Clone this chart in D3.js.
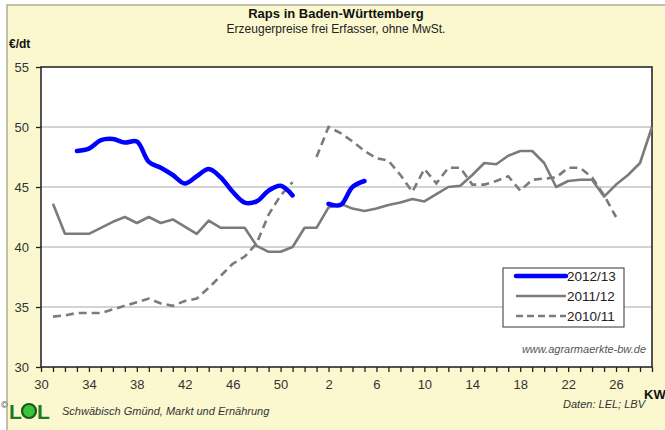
<!DOCTYPE html>
<html>
<head>
<meta charset="utf-8">
<script src="https://cdn.jsdelivr.net/npm/d3@7"></script>
<style>
  html, body { margin: 0; padding: 0; background: #ffffff; }
  svg { display: block; font-family: "Liberation Sans", Arial, sans-serif; }
</style>
</head>
<body>
<svg id="chart" width="665" height="430"></svg>
<script>
// ---- data ----
const weeks = [30,31,32,33,34,35,36,37,38,39,40,41,42,43,44,45,46,47,48,49,50,51,52,
               1,2,3,4,5,6,7,8,9,10,11,12,13,14,15,16,17,18,19,20,21,22,23,24,25,26,27,28,29];
const tickLabelWeeks = [30,34,38,42,46,50,2,6,10,14,18,22,26];
const yTicks = [30,35,40,45,50,55];
const seriesNames = ["2012/13","2011/12","2010/11"];

const s2012 = [null,null,null,48.0,48.2,48.9,49.0,48.7,48.8,47.1,46.6,46.0,45.3,45.9,46.5,45.8,44.6,43.7,43.8,44.7,45.1,44.3,
               null,null,43.6,43.5,45.0,45.5,
               null,null,null,null,null,null,null,null,null,null,null,null,null,null,null,null,null,null,null,null,null,null,null,null];
const s2011 = [null,43.6,41.1,41.1,41.1,41.6,42.1,42.5,42.0,42.5,42.0,42.3,41.7,41.1,42.2,41.6,41.6,41.6,40.1,39.6,39.6,40.0,41.6,
               41.6,43.3,43.6,43.2,43.0,43.2,43.5,43.7,44.0,43.8,44.4,45.0,45.1,46.0,47.0,46.9,47.6,48.0,48.0,47.0,45.0,45.5,45.6,45.6,44.2,45.2,46.0,47.0,50.0];
const s2010 = [null,34.2,34.3,34.5,34.5,34.5,34.8,35.1,35.4,35.7,35.3,35.1,35.5,35.7,36.6,37.6,38.6,39.2,40.3,42.7,44.3,45.4,null,
               47.5,50.0,49.5,48.8,48.0,47.4,47.2,46.0,44.6,46.5,45.3,46.6,46.6,45.2,45.2,45.5,45.9,44.7,45.6,45.7,45.8,46.6,46.6,45.8,44.3,42.5,null,null,null];

// ---- layout ----
const svg = d3.select("#chart");
const L = 41, R = 652, T = 67, B = 367;
const x = d3.scaleLinear().domain([0, weeks.length - 1]).range([L, R]);
const y = d3.scaleLinear().domain([30, 55]).range([B, T]);

// background
svg.append("rect").attr("x", 0).attr("y", 0).attr("width", 665).attr("height", 430).attr("fill", "#ffffff");
svg.append("rect").attr("x", 7).attr("y", 5).attr("width", 670).attr("height", 440)
   .attr("fill", "#fbf8cf").attr("stroke", "#9a9a80").attr("stroke-width", 1.2);

// plot area
svg.append("rect").attr("x", L).attr("y", T).attr("width", R - L).attr("height", B - T).attr("fill", "#ffffff");

// gridlines
svg.append("g").selectAll("line").data(yTicks.filter(v => v > 30 && v < 55)).join("line")
  .attr("x1", L).attr("x2", R).attr("y1", d => y(d)).attr("y2", d => y(d))
  .attr("stroke", "#c4c4c4").attr("stroke-width", 1.3);

// axes
const yAxis = svg.append("g").attr("transform", `translate(${L},0)`)
  .call(d3.axisLeft(y).tickValues(yTicks).tickSize(5).tickPadding(7).tickSizeOuter(0));
yAxis.select(".domain").remove();
yAxis.selectAll("text").attr("font-size", 13).attr("fill", "#333").attr("font-family", "Liberation Sans, Arial, sans-serif");
yAxis.selectAll("line").attr("stroke", "#222").attr("stroke-width", 1.3);

const xAxis = svg.append("g").attr("transform", `translate(0,${B})`)
  .call(d3.axisBottom(x).tickValues(d3.range(weeks.length)).tickSize(5).tickPadding(8).tickSizeOuter(0)
    .tickFormat(i => tickLabelWeeks.includes(weeks[i]) ? weeks[i] : ""));
xAxis.select(".domain").remove();
xAxis.selectAll("text").attr("font-size", 13).attr("fill", "#333").attr("font-family", "Liberation Sans, Arial, sans-serif");
xAxis.selectAll("line").attr("stroke", "#222").attr("stroke-width", 1.3);

// plot border
svg.append("rect").attr("x", L).attr("y", T).attr("width", R - L).attr("height", B - T)
  .attr("fill", "none").attr("stroke", "#2a2a2a").attr("stroke-width", 1.6);

// lines
const lineLinear = d3.line().defined(d => d != null).x((d, i) => x(i)).y(d => y(d));
const lineSmooth = d3.line().defined(d => d != null).x((d, i) => x(i)).y(d => y(d)).curve(d3.curveCatmullRom.alpha(0.5));

svg.append("path").datum(s2010).attr("d", lineLinear).attr("fill", "none")
  .attr("stroke", "#7b7b7b").attr("stroke-width", 2.6).attr("stroke-dasharray", "8,5");
svg.append("path").datum(s2011).attr("d", lineLinear).attr("fill", "none")
  .attr("stroke", "#7b7b7b").attr("stroke-width", 2.6).attr("stroke-linejoin", "round");
svg.append("path").datum(s2012).attr("d", lineSmooth).attr("fill", "none")
  .attr("stroke", "#0000ff").attr("stroke-width", 4.5).attr("stroke-linecap", "round").attr("stroke-linejoin", "round");

// legend
const lg = svg.append("g");
lg.append("rect").attr("x", 503).attr("y", 268).attr("width", 121).attr("height", 59)
  .attr("fill", "#ffffff").attr("stroke", "#333").attr("stroke-width", 1);
const legStyles = [
  {color: "#0000ff", w: 4.5, dash: null},
  {color: "#7b7b7b", w: 2.6, dash: null},
  {color: "#7b7b7b", w: 2.6, dash: "7,4"}
];
seriesNames.forEach((name, i) => {
  const yy = 276 + i * 20;
  const st = legStyles[i];
  lg.append("line").attr("x1", 516).attr("x2", 566).attr("y1", yy).attr("y2", yy)
    .attr("stroke", st.color).attr("stroke-width", st.w).attr("stroke-dasharray", st.dash)
    .attr("stroke-linecap", i === 0 ? "round" : "butt");
  lg.append("text").attr("x", 567).attr("y", yy + 5).attr("font-size", 13.5).attr("fill", "#222").text(name);
});

// texts
svg.append("text").attr("x", 336).attr("y", 18).attr("text-anchor", "middle")
  .attr("font-size", 13).attr("font-weight", "bold").attr("fill", "#111").text("Raps in Baden-Württemberg");
svg.append("text").attr("x", 336).attr("y", 33).attr("text-anchor", "middle")
  .attr("font-size", 12).attr("fill", "#222").text("Erzeugerpreise frei Erfasser, ohne MwSt.");
svg.append("text").attr("x", 9).attr("y", 48)
  .attr("font-size", 12).attr("font-weight", "bold").attr("fill", "#111").text("€/dt");
svg.append("text").attr("x", 644).attr("y", 399)
  .attr("font-size", 13).attr("font-weight", "bold").attr("fill", "#111").text("KW");
svg.append("text").attr("x", 646).attr("y", 353).attr("text-anchor", "end")
  .attr("font-size", 11).attr("font-style", "italic").attr("fill", "#555").text("www.agrarmaerkte-bw.de");
svg.append("text").attr("x", 645).attr("y", 408).attr("text-anchor", "end")
  .attr("font-size", 11).attr("font-style", "italic").attr("fill", "#333").text("Daten: LEL; LBV");
svg.append("text").attr("x", 62).attr("y", 415)
  .attr("font-size", 11).attr("font-style", "italic").attr("fill", "#333").text("Schwäbisch Gmünd, Markt und Ernährung");

// logo
svg.append("text").attr("x", 1).attr("y", 408).attr("font-size", 9).attr("fill", "#333").text("©");
svg.append("text").attr("x", 9).attr("y", 419).attr("font-size", 21).attr("font-weight", "bold").attr("fill", "#1f7a24").text("L");
svg.append("circle").attr("cx", 29).attr("cy", 411).attr("r", 7).attr("fill", "#3cc23c").attr("stroke", "#145a18").attr("stroke-width", 2.2);
svg.append("text").attr("x", 37).attr("y", 419).attr("font-size", 21).attr("font-weight", "bold").attr("fill", "#1f7a24").text("L");
</script>
</body>
</html>
